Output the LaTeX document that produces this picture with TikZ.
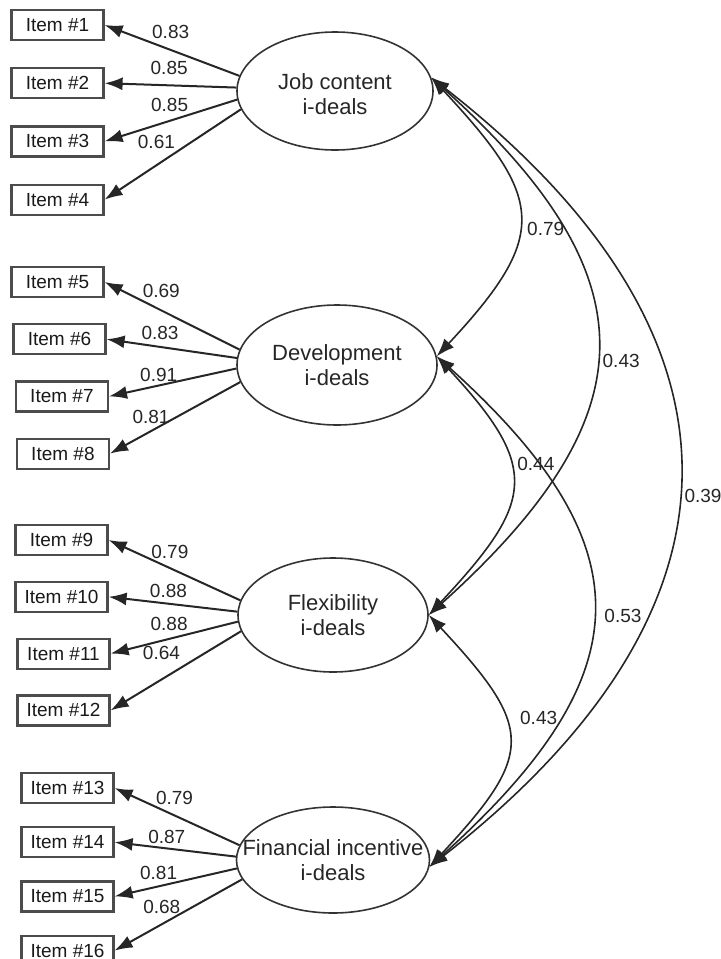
\documentclass[tikz,border=0pt]{standalone}
\usepackage{fontspec}
\setmainfont{Liberation Sans}
\usetikzlibrary{shapes.geometric, arrows.meta, positioning}

\begin{document}
\begin{tikzpicture}[
  x=0.5pt, y=-0.5pt,
  >={Latex[length=9pt, width=6.5pt]},
  factor/.style={draw=black!80, ellipse, line width=0.8pt, inner sep=0pt},
  factortext/.style={align=center, inner sep=0pt, font=\fontsize{11}{12.6}\selectfont, text=black!85},
  itembox/.style={draw=black!70, rectangle, line width=1.1pt, minimum width=46pt, minimum height=15pt, inner sep=0pt, font=\fontsize{9.5}{11}\selectfont, text=black!90},
  load/.style={->, line width=1pt, black!85},
  corr/.style={<->, line width=0.8pt, black!85},
  coef/.style={font=\fontsize{9.5}{11}\selectfont, inner sep=1pt, text=black!85}
]
\useasboundingbox (0,0) rectangle (720,959);

% Latent factors
\node[factor, minimum width=98pt, minimum height=59pt, label={[factortext, yshift=-1.5pt]center:Job content\\i-deals}] (job) at (335,91) {};
\node[factor, minimum width=100pt, minimum height=60pt, label={[factortext]center:Development\\i-deals}] (dev) at (337,365) {};
\node[factor, minimum width=95pt, minimum height=57pt, label={[factortext]center:Flexibility\\i-deals}] (flex) at (333,615) {};
\node[factor, minimum width=96.5pt, minimum height=53pt, label={[factortext]center:Financial incentive\\i-deals}] (fin) at (333,860) {};

% Items, job content
\node[itembox] (i1) at (57.5,25) {Item \#1};
\node[itembox] (i2) [below=13pt of i1] {Item \#2};
\node[itembox] (i3) [below=13pt of i2] {Item \#3};
\node[itembox] (i4) [below=13pt of i3] {Item \#4};

% Items, development
\node[itembox] (i5) at (57.5,282) {Item \#5};
\node[itembox] (i6) [below=12.5pt of i5, xshift=1pt] {Item \#6};
\node[itembox] (i7) [below=12.5pt of i6, xshift=1.2pt] {Item \#7};
\node[itembox] (i8) [below=12.5pt of i7, xshift=0.5pt] {Item \#8};

% Items, flexibility
\node[itembox] (i9)  at (61.5,540) {Item \#9};
\node[itembox] (i10) [below=12.3pt of i9] {Item \#10};
\node[itembox] (i11) [below=12.3pt of i10, xshift=1pt] {Item \#11};
\node[itembox] (i12) [below=12.3pt of i11] {Item \#12};

% Items, financial incentive
\node[itembox] (i13) at (67.5,788) {Item \#13};
\node[itembox] (i14) [below=11pt of i13] {Item \#14};
\node[itembox] (i15) [below=11pt of i14] {Item \#15};
\node[itembox] (i16) [below=11pt of i15] {Item \#16};

% Loadings
\draw[load] (job.171) -- (i1.east) node[coef, pos=0.51, above=4.3pt] {0.83};
\draw[load] (job.178) -- (i2.east) node[coef, pos=0.51, above=3.6pt] {0.85};
\draw[load] (job.185) -- (i3.east) node[coef, pos=0.51, above=3.3pt] {0.85};
\draw[load] (job.191) -- (i4.east) node[coef, pos=0.62, above=6.9pt] {0.61};

\draw[load] (dev.171) -- (i5.east) node[coef, pos=0.58, above=4.8pt] {0.69};
\draw[load] (dev.176) -- (i6.east) node[coef, pos=0.59, above=2pt] {0.83};
\draw[load] (dev.182) -- (i7.east) node[coef, pos=0.61, above=0.5pt] {0.91};
\draw[load] (dev.190) -- (i8.east) node[coef, pos=0.685, above=2.1pt] {0.81};

\draw[load] (flex.171) -- (i9.east)  node[coef, pos=0.535, above=3.1pt] {0.79};
\draw[load] (flex.178) -- (i10.east) node[coef, pos=0.535, above=1.6pt] {0.88};
\draw[load] (flex.184) -- (i11.east) node[coef, pos=0.54, above=2.4pt] {0.88};
\draw[load] (flex.190) -- (i12.east) node[coef, pos=0.61, above=8.4pt] {0.64};

\draw[load] (fin.171) -- (i13.east) node[coef, pos=0.52, above=3.9pt] {0.79};
\draw[load] (fin.178) -- (i14.east) node[coef, pos=0.57, above=1.1pt] {0.87};
\draw[load] (fin.185) -- (i15.east) node[coef, pos=0.64, above=1.6pt] {0.81};
\draw[load] (fin.192) -- (i16.east) node[coef, pos=0.63, above=3.6pt] {0.68};

% Factor correlations
\draw[corr] (job.8) to[out=-47, in=47, looseness=1.52] node[coef, pos=0.55, right=3pt] {0.79} (dev.5);
\draw[corr] (job.8) to[out=-42, in=42, looseness=1.42] node[coef, pos=0.53, right=2pt] {0.43} (flex.east);
\draw[corr] (job.8) to[out=-38, in=38, looseness=1.36] node[coef, pos=0.53, right=2pt] {0.39} (fin.-4);
\draw[corr] (dev.5) to[out=-47, in=47, looseness=1.52] node[coef, pos=0.4, right=2.5pt] {0.44} (flex.east);
\draw[corr] (dev.5) to[out=-42, in=42, looseness=1.43] node[coef, pos=0.51, right=4.7pt] {0.53} (fin.-4);
\draw[corr] (flex.east) to[out=-47, in=47, looseness=1.57] node[coef, pos=0.39, right=6.5pt] {0.43} (fin.-4);
\end{tikzpicture}
\end{document}
